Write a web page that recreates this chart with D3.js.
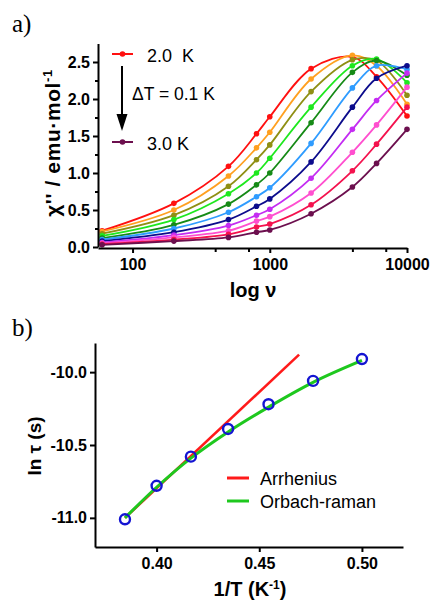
<!DOCTYPE html>
<html>
<head>
<meta charset="utf-8">
<script src="https://cdn.jsdelivr.net/npm/d3@7/dist/d3.min.js"></script>
<style>
  html, body { margin: 0; padding: 0; background: #fff; }
  svg { display: block; font-family: "Liberation Sans", Arial, sans-serif; }
  .axis path, .axis line { stroke: #000; stroke-width: 2; }
  .axis text { font-size: 16px; font-weight: bold; fill: #000; font-family: "Liberation Sans", Arial, sans-serif; }
</style>
</head>
<body>
<script>
// ---- (a) out-of-phase AC susceptibility vs frequency ----
const freqs = [60, 200, 500, 800, 1000, 2000, 4000, 6000, 10000];
const temps = ["2.0", "2.1", "2.2", "2.3", "2.4", "2.5", "2.6", "2.7", "2.8", "2.9", "3.0"];
const tempColors = ["#ff1010", "#ffa020", "#8f8f14", "#1ee81e", "#168a16", "#2f9cff",
                    "#0c0c8c", "#c42cf2", "#ff4fcf", "#f4124e", "#6c0f4e"];
const chi2_T20 = [0.22, 0.59, 1.09, 1.53, 1.76, 2.41, 2.57, 2.30, 1.77];
const chi2_T21 = [0.21, 0.50, 0.96, 1.34, 1.55, 2.27, 2.59, 2.45, 1.93];
const chi2_T22 = [0.18, 0.43, 0.82, 1.18, 1.38, 2.10, 2.53, 2.52, 2.05];
const chi2_T23 = [0.15, 0.37, 0.72, 1.00, 1.20, 1.89, 2.45, 2.54, 2.22];
const chi2_T24 = [0.12, 0.30, 0.58, 0.84, 1.00, 1.68, 2.36, 2.52, 2.32];
const chi2_T25 = [0.10, 0.25, 0.47, 0.68, 0.80, 1.40, 2.15, 2.45, 2.40];
const chi2_T26 = [0.08, 0.20, 0.37, 0.55, 0.65, 1.15, 1.89, 2.28, 2.45];
const chi2_T27 = [0.06, 0.16, 0.29, 0.43, 0.51, 0.93, 1.59, 1.98, 2.35];
const chi2_T28 = [0.05, 0.13, 0.22, 0.35, 0.41, 0.73, 1.28, 1.65, 2.16];
const chi2_T29 = [0.04, 0.10, 0.17, 0.27, 0.31, 0.57, 1.03, 1.39, 1.89];
const chi2_T30 = [0.03, 0.08, 0.13, 0.20, 0.23, 0.45, 0.81, 1.13, 1.59];
const chi2Series = [chi2_T20, chi2_T21, chi2_T22, chi2_T23, chi2_T24, chi2_T25,
                    chi2_T26, chi2_T27, chi2_T28, chi2_T29, chi2_T30];
const freqMajorTicks = [100, 1000, 10000];
const freqMinorTicks = [400, 700, 4000, 7000];
const chiMajorTicks = [0.0, 0.5, 1.0, 1.5, 2.0, 2.5];
const chiMinorTicks = [0.25, 0.75, 1.25, 1.75, 2.25];

// ---- (b) relaxation time vs inverse temperature ----
const invT = [0.3846, 0.4000, 0.4167, 0.4348, 0.4545, 0.4762, 0.5000];
const lnTau = [-11.01, -10.78, -10.58, -10.39, -10.22, -10.06, -9.91];
const arrheniusX = [0.3846, 0.4694];
const arrheniusY = [-11.00, -9.88];
const orbachX = [0.3846, 0.4000, 0.4167, 0.4348, 0.4545, 0.4762, 0.5000];
const orbachY = [-11.00, -10.79, -10.59, -10.41, -10.24, -10.07, -9.92];
const invTTicks = [0.40, 0.45, 0.50];
const lnTauTicks = [-10.0, -10.5, -11.0];

const W = 432, H = 602;
const svg = d3.select("body").append("svg").attr("width", W).attr("height", H);

// ================= panel a =================
const xA = d3.scaleLog().domain([56, 10000]).range([98, 407]);
const yA = d3.scaleLinear().domain([0, 2.75]).range([247, 43.5]);

svg.append("text").attr("x", 12).attr("y", 32)
  .style("font-family", "'Liberation Serif', 'Times New Roman', serif")
  .style("font-size", "25px").text("a)");

const gA = svg.append("g");

// curves and markers
const lineA = d3.line()
  .x((d, i) => xA(freqs[i]))
  .y(d => yA(d))
  .curve(d3.curveCatmullRom.alpha(0.5));

chi2Series.forEach((vals, k) => {
  gA.append("path").attr("d", lineA(vals))
    .attr("fill", "none").attr("stroke", tempColors[k]).attr("stroke-width", 1.8);
  gA.selectAll(null).data(vals).enter().append("circle")
    .attr("cx", (d, i) => xA(freqs[i])).attr("cy", d => yA(d))
    .attr("r", 2.8).attr("fill", tempColors[k]);
});

// axes
gA.append("g").attr("class", "axis").attr("transform", "translate(0,248)")
  .call(d3.axisBottom(xA).tickValues(freqMajorTicks).tickFormat(d3.format("d"))
    .tickSize(5).tickSizeOuter(0).tickPadding(6));
gA.append("g").attr("class", "axis").attr("transform", "translate(0,248)")
  .call(d3.axisBottom(xA).tickValues(freqMinorTicks).tickFormat("")
    .tickSize(4).tickSizeOuter(0))
  .select(".domain").remove();
gA.append("g").attr("class", "axis").attr("transform", "translate(98,0)")
  .call(d3.axisLeft(yA).tickValues(chiMajorTicks).tickFormat(d => d.toFixed(1))
    .tickSize(5).tickSizeOuter(0).tickPadding(3));
gA.append("g").attr("class", "axis").attr("transform", "translate(98,0)")
  .call(d3.axisLeft(yA).tickValues(chiMinorTicks).tickFormat("")
    .tickSize(3).tickSizeOuter(0))
  .select(".domain").remove();

// axis titles
const yTitleA = svg.append("text")
  .attr("transform", "translate(60,143) rotate(-90)")
  .attr("text-anchor", "middle")
  .style("font-size", "21px").style("font-weight", "bold")
  .style("letter-spacing", "0.6px");
yTitleA.append("tspan").text("\u03C7'' / emu\u00B7mol");
yTitleA.append("tspan").attr("dy", -8).style("font-size", "13px").text("-1");

svg.append("text").attr("x", 253).attr("y", 297).attr("text-anchor", "middle")
  .style("font-size", "20px").style("font-weight", "bold").text("log \u03BD");

// legend with arrow
const legA = svg.append("g");
const legRows = [{ k: 0, y: 54, label: "2.0  K" }, { k: 10, y: 142, label: "3.0 K" }];
legRows.forEach(r => {
  legA.append("line").attr("x1", 112).attr("x2", 133).attr("y1", r.y).attr("y2", r.y)
    .attr("stroke", tempColors[r.k]).attr("stroke-width", 2);
  legA.append("circle").attr("cx", 122.5).attr("cy", r.y).attr("r", 2.8).attr("fill", tempColors[r.k]);
  legA.append("text").attr("x", 147).attr("y", r.y + 7.5)
    .style("font-size", "18px").style("white-space", "pre").attr("xml:space", "preserve")
    .text(r.label);
});
legA.append("line").attr("x1", 122).attr("x2", 122).attr("y1", 66).attr("y2", 118)
  .attr("stroke", "#000").attr("stroke-width", 2);
legA.append("path").attr("d", "M116.5,114 L127.5,114 L122,131 Z").attr("fill", "#000");
legA.append("text").attr("x", 132).attr("y", 100)
  .style("font-size", "17.5px").text("\u0394T = 0.1 K");

// ================= panel b =================
const xB = d3.scaleLinear().domain([0.37, 0.52]).range([95, 403]);
const yB = d3.scaleLinear().domain([-11.2, -9.8]).range([547, 343]);

svg.append("text").attr("x", 12).attr("y", 336)
  .style("font-family", "'Liberation Serif', 'Times New Roman', serif")
  .style("font-size", "25px").text("b)");

const gB = svg.append("g");
gB.append("g").attr("class", "axis").attr("transform", "translate(0,547)")
  .call(d3.axisBottom(xB).tickValues(invTTicks).tickFormat(d => d.toFixed(2))
    .tickSize(5).tickSizeOuter(0).tickPadding(6));
gB.append("g").attr("class", "axis").attr("transform", "translate(95,0)")
  .call(d3.axisLeft(yB).tickValues(lnTauTicks).tickFormat(d => d.toFixed(1))
    .tickSize(5).tickSizeOuter(0).tickPadding(3));

const lineB = d3.line().x(d => xB(d[0])).y(d => yB(d[1]));
gB.append("path")
  .attr("d", lineB(arrheniusX.map((x, i) => [x, arrheniusY[i]])))
  .attr("fill", "none").attr("stroke", "#ff1a1a").attr("stroke-width", 2.6);
gB.append("path")
  .attr("d", lineB.curve(d3.curveCatmullRom.alpha(0.5))(orbachX.map((x, i) => [x, orbachY[i]])))
  .attr("fill", "none").attr("stroke", "#1ec81e").attr("stroke-width", 3);
gB.selectAll(null).data(invT).enter().append("circle")
  .attr("cx", d => xB(d)).attr("cy", (d, i) => yB(lnTau[i]))
  .attr("r", 5).attr("fill", "none").attr("stroke", "#1414d2").attr("stroke-width", 2.4);

// legend
const legB = [{ c: "#ff1a1a", y: 478, label: "Arrhenius" }, { c: "#1ec81e", y: 501, label: "Orbach-raman" }];
legB.forEach(r => {
  svg.append("line").attr("x1", 227).attr("x2", 249).attr("y1", r.y).attr("y2", r.y)
    .attr("stroke", r.c).attr("stroke-width", 3);
  svg.append("text").attr("x", 260).attr("y", r.y + 6.5)
    .style("font-size", "18px").text(r.label);
});

// axis titles
svg.append("text").attr("transform", "translate(41,446) rotate(-90)")
  .attr("text-anchor", "middle")
  .style("font-size", "19px").style("font-weight", "bold").text("ln \u03C4 (s)");
const xTitleB = svg.append("text").attr("x", 250).attr("y", 596).attr("text-anchor", "middle")
  .style("font-size", "20px").style("font-weight", "bold");
xTitleB.append("tspan").text("1/T (K");
xTitleB.append("tspan").attr("dy", -7).style("font-size", "12px").text("-1");
xTitleB.append("tspan").attr("dy", 7).text(")");
</script>
</body>
</html>
